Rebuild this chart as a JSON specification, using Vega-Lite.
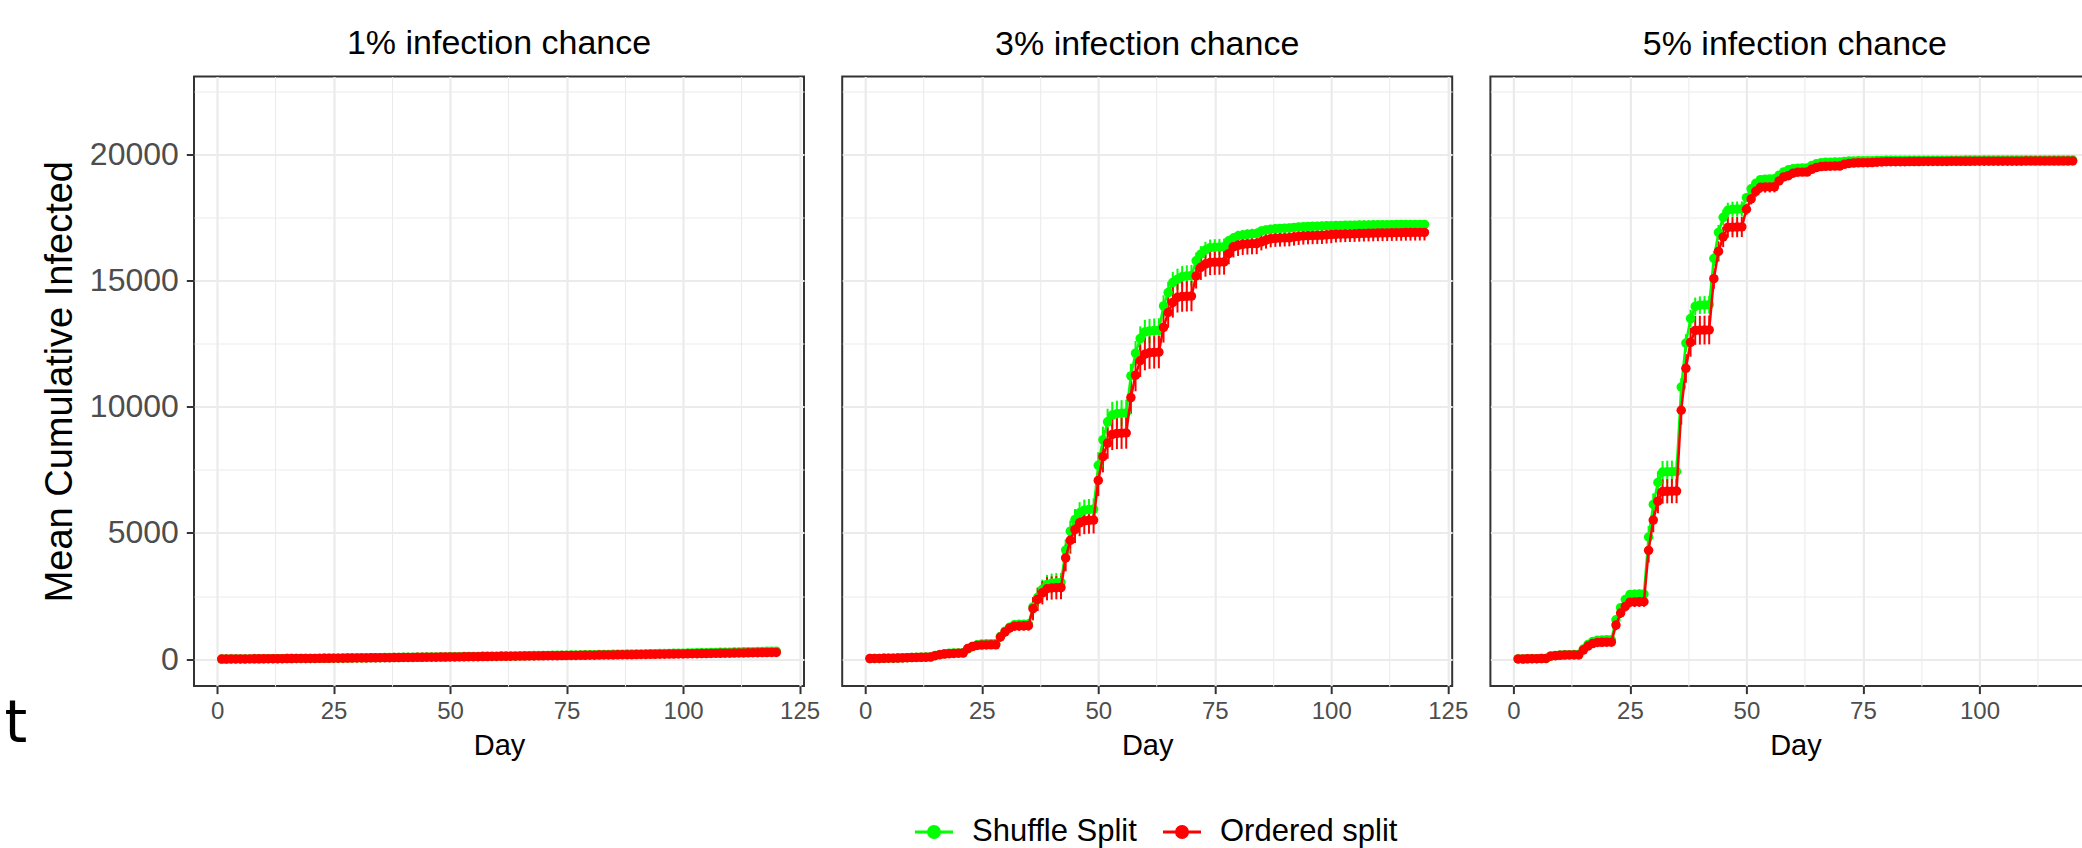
{
"$schema": "https://vega.github.io/schema/vega-lite/v6.json",
"padding": {"left": 4, "top": 25.5, "right": 0, "bottom": 0},
"title": {"text": "t", "orient": "bottom", "anchor": "start", "frame": "group", "font": "DejaVu Sans", "fontSize": 58, "fontWeight": "normal", "color": "#000000", "baseline": "alphabetic", "offset": -105, "dx": -189.5},
"config": {
  "font": "Liberation Sans",
  "view": {"stroke": "#333333", "strokeWidth": 2},
  "axis": {"gridColor": "#EBEBEB", "tickColor": "#333333", "tickWidth": 2, "tickSize": 7.7, "labelColor": "#4D4D4D", "titleColor": "#000000", "labelFont": "Liberation Sans", "titleFont": "Liberation Sans", "titleFontWeight": "normal", "domain": false},
  "title": {"fontSize": 34, "font": "Liberation Sans", "fontWeight": "normal", "color": "#000000", "anchor": "middle", "baseline": "alphabetic"},
  "legend": {"orient": "none", "direction": "horizontal", "legendX": 719.5, "legendY": 734.7, "labelFontSize": 31, "labelLimit": 0, "labelColor": "#000000", "labelFont": "Liberation Sans", "symbolType": "M-1,0L1,0M0.29,0A0.29,0.29,0,1,1,-0.29,0A0.29,0.29,0,1,1,0.29,0Z", "symbolSize": 1444, "symbolStrokeWidth": 3, "columnPadding": 19, "labelOffset": 17.5, "padding": 0}
},
"datasets": {
"p1": [
{"day":1,"shuffle":5,"ordered":5,"shuffleErr":5,"orderedErr":5},
{"day":2,"shuffle":6,"ordered":6,"shuffleErr":5,"orderedErr":5},
{"day":3,"shuffle":8,"ordered":8,"shuffleErr":5,"orderedErr":5},
{"day":4,"shuffle":9,"ordered":9,"shuffleErr":5,"orderedErr":5},
{"day":5,"shuffle":11,"ordered":10,"shuffleErr":5,"orderedErr":5},
{"day":6,"shuffle":12,"ordered":12,"shuffleErr":5,"orderedErr":5},
{"day":7,"shuffle":13,"ordered":13,"shuffleErr":5,"orderedErr":5},
{"day":8,"shuffle":15,"ordered":14,"shuffleErr":5,"orderedErr":5},
{"day":9,"shuffle":16,"ordered":16,"shuffleErr":5,"orderedErr":5},
{"day":10,"shuffle":18,"ordered":17,"shuffleErr":5,"orderedErr":5},
{"day":11,"shuffle":19,"ordered":18,"shuffleErr":5,"orderedErr":5},
{"day":12,"shuffle":20,"ordered":20,"shuffleErr":5,"orderedErr":5},
{"day":13,"shuffle":22,"ordered":21,"shuffleErr":5,"orderedErr":5},
{"day":14,"shuffle":23,"ordered":22,"shuffleErr":5,"orderedErr":5},
{"day":15,"shuffle":25,"ordered":24,"shuffleErr":5,"orderedErr":5},
{"day":16,"shuffle":26,"ordered":25,"shuffleErr":5,"orderedErr":5},
{"day":17,"shuffle":27,"ordered":27,"shuffleErr":5,"orderedErr":5},
{"day":18,"shuffle":29,"ordered":28,"shuffleErr":5,"orderedErr":5},
{"day":19,"shuffle":30,"ordered":29,"shuffleErr":5,"orderedErr":5},
{"day":20,"shuffle":32,"ordered":31,"shuffleErr":5,"orderedErr":5},
{"day":21,"shuffle":33,"ordered":32,"shuffleErr":5,"orderedErr":5},
{"day":22,"shuffle":35,"ordered":33,"shuffleErr":5,"orderedErr":5},
{"day":23,"shuffle":36,"ordered":35,"shuffleErr":5,"orderedErr":5},
{"day":24,"shuffle":38,"ordered":36,"shuffleErr":5,"orderedErr":5},
{"day":25,"shuffle":40,"ordered":38,"shuffleErr":5,"orderedErr":5},
{"day":26,"shuffle":42,"ordered":40,"shuffleErr":5,"orderedErr":5},
{"day":27,"shuffle":44,"ordered":42,"shuffleErr":5,"orderedErr":5},
{"day":28,"shuffle":46,"ordered":44,"shuffleErr":5,"orderedErr":5},
{"day":29,"shuffle":49,"ordered":46,"shuffleErr":5,"orderedErr":5},
{"day":30,"shuffle":51,"ordered":48,"shuffleErr":5,"orderedErr":5},
{"day":31,"shuffle":53,"ordered":50,"shuffleErr":5,"orderedErr":5},
{"day":32,"shuffle":55,"ordered":52,"shuffleErr":5,"orderedErr":5},
{"day":33,"shuffle":57,"ordered":54,"shuffleErr":5,"orderedErr":5},
{"day":34,"shuffle":59,"ordered":56,"shuffleErr":5,"orderedErr":5},
{"day":35,"shuffle":62,"ordered":58,"shuffleErr":5,"orderedErr":5},
{"day":36,"shuffle":64,"ordered":60,"shuffleErr":5,"orderedErr":5},
{"day":37,"shuffle":66,"ordered":62,"shuffleErr":5,"orderedErr":5},
{"day":38,"shuffle":68,"ordered":64,"shuffleErr":5,"orderedErr":5},
{"day":39,"shuffle":70,"ordered":66,"shuffleErr":5,"orderedErr":5},
{"day":40,"shuffle":73,"ordered":68,"shuffleErr":5,"orderedErr":5},
{"day":41,"shuffle":75,"ordered":70,"shuffleErr":5,"orderedErr":5},
{"day":42,"shuffle":77,"ordered":72,"shuffleErr":5,"orderedErr":5},
{"day":43,"shuffle":79,"ordered":74,"shuffleErr":5,"orderedErr":5},
{"day":44,"shuffle":81,"ordered":76,"shuffleErr":5,"orderedErr":5},
{"day":45,"shuffle":84,"ordered":78,"shuffleErr":5,"orderedErr":5},
{"day":46,"shuffle":86,"ordered":80,"shuffleErr":5,"orderedErr":5},
{"day":47,"shuffle":88,"ordered":82,"shuffleErr":5,"orderedErr":5},
{"day":48,"shuffle":90,"ordered":84,"shuffleErr":5,"orderedErr":5},
{"day":49,"shuffle":92,"ordered":86,"shuffleErr":5,"orderedErr":5},
{"day":50,"shuffle":95,"ordered":88,"shuffleErr":5,"orderedErr":5},
{"day":51,"shuffle":98,"ordered":90,"shuffleErr":5,"orderedErr":5},
{"day":52,"shuffle":100,"ordered":92,"shuffleErr":5,"orderedErr":5},
{"day":53,"shuffle":103,"ordered":95,"shuffleErr":5,"orderedErr":5},
{"day":54,"shuffle":105,"ordered":97,"shuffleErr":5,"orderedErr":5},
{"day":55,"shuffle":108,"ordered":99,"shuffleErr":5,"orderedErr":5},
{"day":56,"shuffle":110,"ordered":101,"shuffleErr":5,"orderedErr":5},
{"day":57,"shuffle":113,"ordered":104,"shuffleErr":5,"orderedErr":5},
{"day":58,"shuffle":116,"ordered":106,"shuffleErr":5,"orderedErr":5},
{"day":59,"shuffle":118,"ordered":108,"shuffleErr":5,"orderedErr":5},
{"day":60,"shuffle":121,"ordered":111,"shuffleErr":5,"orderedErr":5},
{"day":61,"shuffle":123,"ordered":113,"shuffleErr":5,"orderedErr":5},
{"day":62,"shuffle":126,"ordered":115,"shuffleErr":5,"orderedErr":5},
{"day":63,"shuffle":129,"ordered":118,"shuffleErr":5,"orderedErr":5},
{"day":64,"shuffle":131,"ordered":120,"shuffleErr":5,"orderedErr":5},
{"day":65,"shuffle":134,"ordered":122,"shuffleErr":5,"orderedErr":5},
{"day":66,"shuffle":136,"ordered":125,"shuffleErr":5,"orderedErr":5},
{"day":67,"shuffle":139,"ordered":127,"shuffleErr":5,"orderedErr":5},
{"day":68,"shuffle":142,"ordered":129,"shuffleErr":5,"orderedErr":5},
{"day":69,"shuffle":144,"ordered":132,"shuffleErr":5,"orderedErr":5},
{"day":70,"shuffle":147,"ordered":134,"shuffleErr":5,"orderedErr":5},
{"day":71,"shuffle":149,"ordered":136,"shuffleErr":5,"orderedErr":5},
{"day":72,"shuffle":152,"ordered":139,"shuffleErr":5,"orderedErr":5},
{"day":73,"shuffle":155,"ordered":141,"shuffleErr":5,"orderedErr":5},
{"day":74,"shuffle":157,"ordered":143,"shuffleErr":5,"orderedErr":5},
{"day":75,"shuffle":160,"ordered":145,"shuffleErr":5,"orderedErr":5},
{"day":76,"shuffle":163,"ordered":148,"shuffleErr":5,"orderedErr":5},
{"day":77,"shuffle":166,"ordered":150,"shuffleErr":5,"orderedErr":5},
{"day":78,"shuffle":170,"ordered":153,"shuffleErr":5,"orderedErr":5},
{"day":79,"shuffle":173,"ordered":155,"shuffleErr":5,"orderedErr":5},
{"day":80,"shuffle":176,"ordered":158,"shuffleErr":5,"orderedErr":5},
{"day":81,"shuffle":179,"ordered":160,"shuffleErr":5,"orderedErr":5},
{"day":82,"shuffle":182,"ordered":163,"shuffleErr":5,"orderedErr":5},
{"day":83,"shuffle":186,"ordered":166,"shuffleErr":5,"orderedErr":5},
{"day":84,"shuffle":189,"ordered":168,"shuffleErr":5,"orderedErr":5},
{"day":85,"shuffle":192,"ordered":171,"shuffleErr":5,"orderedErr":5},
{"day":86,"shuffle":195,"ordered":173,"shuffleErr":5,"orderedErr":5},
{"day":87,"shuffle":198,"ordered":176,"shuffleErr":5,"orderedErr":5},
{"day":88,"shuffle":202,"ordered":179,"shuffleErr":5,"orderedErr":5},
{"day":89,"shuffle":205,"ordered":181,"shuffleErr":5,"orderedErr":5},
{"day":90,"shuffle":208,"ordered":184,"shuffleErr":5,"orderedErr":5},
{"day":91,"shuffle":211,"ordered":187,"shuffleErr":5,"orderedErr":5},
{"day":92,"shuffle":214,"ordered":189,"shuffleErr":5,"orderedErr":5},
{"day":93,"shuffle":218,"ordered":192,"shuffleErr":5,"orderedErr":5},
{"day":94,"shuffle":221,"ordered":195,"shuffleErr":5,"orderedErr":5},
{"day":95,"shuffle":224,"ordered":197,"shuffleErr":5,"orderedErr":5},
{"day":96,"shuffle":227,"ordered":200,"shuffleErr":5,"orderedErr":5},
{"day":97,"shuffle":230,"ordered":203,"shuffleErr":5,"orderedErr":5},
{"day":98,"shuffle":234,"ordered":205,"shuffleErr":5,"orderedErr":5},
{"day":99,"shuffle":237,"ordered":208,"shuffleErr":5,"orderedErr":5},
{"day":100,"shuffle":240,"ordered":210,"shuffleErr":5,"orderedErr":5},
{"day":101,"shuffle":244,"ordered":213,"shuffleErr":5,"orderedErr":5},
{"day":102,"shuffle":248,"ordered":216,"shuffleErr":5,"orderedErr":5},
{"day":103,"shuffle":252,"ordered":219,"shuffleErr":5,"orderedErr":5},
{"day":104,"shuffle":256,"ordered":222,"shuffleErr":5,"orderedErr":5},
{"day":105,"shuffle":260,"ordered":225,"shuffleErr":5,"orderedErr":5},
{"day":106,"shuffle":264,"ordered":228,"shuffleErr":5,"orderedErr":5},
{"day":107,"shuffle":268,"ordered":231,"shuffleErr":5,"orderedErr":5},
{"day":108,"shuffle":272,"ordered":234,"shuffleErr":5,"orderedErr":5},
{"day":109,"shuffle":276,"ordered":237,"shuffleErr":5,"orderedErr":5},
{"day":110,"shuffle":280,"ordered":240,"shuffleErr":5,"orderedErr":5},
{"day":111,"shuffle":284,"ordered":243,"shuffleErr":5,"orderedErr":5},
{"day":112,"shuffle":288,"ordered":246,"shuffleErr":5,"orderedErr":5},
{"day":113,"shuffle":292,"ordered":249,"shuffleErr":5,"orderedErr":5},
{"day":114,"shuffle":296,"ordered":252,"shuffleErr":5,"orderedErr":5},
{"day":115,"shuffle":300,"ordered":255,"shuffleErr":5,"orderedErr":5},
{"day":116,"shuffle":304,"ordered":258,"shuffleErr":5,"orderedErr":5},
{"day":117,"shuffle":308,"ordered":261,"shuffleErr":5,"orderedErr":5},
{"day":118,"shuffle":312,"ordered":264,"shuffleErr":5,"orderedErr":5},
{"day":119,"shuffle":316,"ordered":267,"shuffleErr":5,"orderedErr":5},
{"day":120,"shuffle":320,"ordered":270,"shuffleErr":5,"orderedErr":5}
],
"p2": [
{"day":1,"shuffle":25,"ordered":25,"shuffleErr":20,"orderedErr":20},
{"day":2,"shuffle":28,"ordered":28,"shuffleErr":20,"orderedErr":20},
{"day":3,"shuffle":31,"ordered":31,"shuffleErr":20,"orderedErr":20},
{"day":4,"shuffle":35,"ordered":34,"shuffleErr":20,"orderedErr":20},
{"day":5,"shuffle":38,"ordered":37,"shuffleErr":20,"orderedErr":20},
{"day":6,"shuffle":42,"ordered":41,"shuffleErr":20,"orderedErr":20},
{"day":7,"shuffle":46,"ordered":45,"shuffleErr":20,"orderedErr":20},
{"day":8,"shuffle":55,"ordered":52,"shuffleErr":20,"orderedErr":20},
{"day":9,"shuffle":62,"ordered":58,"shuffleErr":20,"orderedErr":20},
{"day":10,"shuffle":68,"ordered":64,"shuffleErr":20,"orderedErr":20},
{"day":11,"shuffle":74,"ordered":70,"shuffleErr":20,"orderedErr":20},
{"day":12,"shuffle":80,"ordered":75,"shuffleErr":20,"orderedErr":20},
{"day":13,"shuffle":86,"ordered":80,"shuffleErr":20,"orderedErr":20},
{"day":14,"shuffle":92,"ordered":86,"shuffleErr":20,"orderedErr":20},
{"day":15,"shuffle":150,"ordered":140,"shuffleErr":60,"orderedErr":60},
{"day":16,"shuffle":190,"ordered":180,"shuffleErr":60,"orderedErr":60},
{"day":17,"shuffle":215,"ordered":205,"shuffleErr":60,"orderedErr":60},
{"day":18,"shuffle":232,"ordered":220,"shuffleErr":60,"orderedErr":60},
{"day":19,"shuffle":242,"ordered":230,"shuffleErr":60,"orderedErr":60},
{"day":20,"shuffle":250,"ordered":238,"shuffleErr":60,"orderedErr":60},
{"day":21,"shuffle":256,"ordered":244,"shuffleErr":60,"orderedErr":60},
{"day":22,"shuffle":410,"ordered":420,"shuffleErr":150,"orderedErr":160},
{"day":23,"shuffle":505,"ordered":500,"shuffleErr":150,"orderedErr":160},
{"day":24,"shuffle":570,"ordered":545,"shuffleErr":150,"orderedErr":160},
{"day":25,"shuffle":600,"ordered":560,"shuffleErr":150,"orderedErr":160},
{"day":26,"shuffle":610,"ordered":565,"shuffleErr":150,"orderedErr":160},
{"day":27,"shuffle":616,"ordered":568,"shuffleErr":150,"orderedErr":160},
{"day":28,"shuffle":622,"ordered":570,"shuffleErr":150,"orderedErr":160},
{"day":29,"shuffle":900,"ordered":880,"shuffleErr":170,"orderedErr":190},
{"day":30,"shuffle":1110,"ordered":1080,"shuffleErr":170,"orderedErr":190},
{"day":31,"shuffle":1270,"ordered":1240,"shuffleErr":170,"orderedErr":190},
{"day":32,"shuffle":1360,"ordered":1310,"shuffleErr":170,"orderedErr":190},
{"day":33,"shuffle":1380,"ordered":1318,"shuffleErr":170,"orderedErr":190},
{"day":34,"shuffle":1386,"ordered":1322,"shuffleErr":170,"orderedErr":190},
{"day":35,"shuffle":1392,"ordered":1326,"shuffleErr":170,"orderedErr":190},
{"day":36,"shuffle":2070,"ordered":2000,"shuffleErr":380,"orderedErr":460},
{"day":37,"shuffle":2450,"ordered":2370,"shuffleErr":380,"orderedErr":460},
{"day":38,"shuffle":2770,"ordered":2630,"shuffleErr":380,"orderedErr":460},
{"day":39,"shuffle":2960,"ordered":2790,"shuffleErr":380,"orderedErr":460},
{"day":40,"shuffle":3010,"ordered":2820,"shuffleErr":380,"orderedErr":460},
{"day":41,"shuffle":3030,"ordered":2830,"shuffleErr":380,"orderedErr":460},
{"day":42,"shuffle":3040,"ordered":2836,"shuffleErr":380,"orderedErr":460},
{"day":43,"shuffle":4320,"ordered":4010,"shuffleErr":420,"orderedErr":530},
{"day":44,"shuffle":5070,"ordered":4710,"shuffleErr":420,"orderedErr":530},
{"day":45,"shuffle":5530,"ordered":5130,"shuffleErr":420,"orderedErr":530},
{"day":46,"shuffle":5800,"ordered":5400,"shuffleErr":420,"orderedErr":530},
{"day":47,"shuffle":5900,"ordered":5480,"shuffleErr":420,"orderedErr":530},
{"day":48,"shuffle":5925,"ordered":5500,"shuffleErr":420,"orderedErr":530},
{"day":49,"shuffle":5945,"ordered":5510,"shuffleErr":420,"orderedErr":530},
{"day":50,"shuffle":7680,"ordered":7080,"shuffleErr":520,"orderedErr":620},
{"day":51,"shuffle":8690,"ordered":8020,"shuffleErr":520,"orderedErr":620},
{"day":52,"shuffle":9400,"ordered":8560,"shuffleErr":520,"orderedErr":620},
{"day":53,"shuffle":9670,"ordered":8900,"shuffleErr":520,"orderedErr":620},
{"day":54,"shuffle":9720,"ordered":8940,"shuffleErr":520,"orderedErr":620},
{"day":55,"shuffle":9740,"ordered":8950,"shuffleErr":520,"orderedErr":620},
{"day":56,"shuffle":9755,"ordered":8958,"shuffleErr":520,"orderedErr":620},
{"day":57,"shuffle":11220,"ordered":10360,"shuffleErr":480,"orderedErr":640},
{"day":58,"shuffle":12120,"ordered":11250,"shuffleErr":480,"orderedErr":640},
{"day":59,"shuffle":12700,"ordered":11820,"shuffleErr":480,"orderedErr":640},
{"day":60,"shuffle":12960,"ordered":12080,"shuffleErr":480,"orderedErr":640},
{"day":61,"shuffle":13000,"ordered":12140,"shuffleErr":480,"orderedErr":640},
{"day":62,"shuffle":13015,"ordered":12150,"shuffleErr":480,"orderedErr":640},
{"day":63,"shuffle":13025,"ordered":12160,"shuffleErr":480,"orderedErr":640},
{"day":64,"shuffle":13990,"ordered":13140,"shuffleErr":420,"orderedErr":600},
{"day":65,"shuffle":14520,"ordered":13730,"shuffleErr":420,"orderedErr":600},
{"day":66,"shuffle":14920,"ordered":14130,"shuffleErr":420,"orderedErr":600},
{"day":67,"shuffle":15050,"ordered":14330,"shuffleErr":420,"orderedErr":600},
{"day":68,"shuffle":15150,"ordered":14360,"shuffleErr":420,"orderedErr":600},
{"day":69,"shuffle":15180,"ordered":14370,"shuffleErr":420,"orderedErr":600},
{"day":70,"shuffle":15195,"ordered":14380,"shuffleErr":420,"orderedErr":600},
{"day":71,"shuffle":15780,"ordered":15180,"shuffleErr":320,"orderedErr":500},
{"day":72,"shuffle":16040,"ordered":15520,"shuffleErr":320,"orderedErr":500},
{"day":73,"shuffle":16210,"ordered":15650,"shuffleErr":320,"orderedErr":500},
{"day":74,"shuffle":16300,"ordered":15710,"shuffleErr":320,"orderedErr":500},
{"day":75,"shuffle":16315,"ordered":15720,"shuffleErr":320,"orderedErr":500},
{"day":76,"shuffle":16325,"ordered":15725,"shuffleErr":320,"orderedErr":500},
{"day":77,"shuffle":16335,"ordered":15730,"shuffleErr":320,"orderedErr":500},
{"day":78,"shuffle":16570,"ordered":16060,"shuffleErr":200,"orderedErr":420},
{"day":79,"shuffle":16680,"ordered":16330,"shuffleErr":200,"orderedErr":420},
{"day":80,"shuffle":16770,"ordered":16390,"shuffleErr":200,"orderedErr":420},
{"day":81,"shuffle":16800,"ordered":16430,"shuffleErr":200,"orderedErr":420},
{"day":82,"shuffle":16825,"ordered":16445,"shuffleErr":200,"orderedErr":420},
{"day":83,"shuffle":16845,"ordered":16455,"shuffleErr":200,"orderedErr":420},
{"day":84,"shuffle":16860,"ordered":16460,"shuffleErr":200,"orderedErr":420},
{"day":85,"shuffle":16960,"ordered":16530,"shuffleErr":170,"orderedErr":340},
{"day":86,"shuffle":17000,"ordered":16600,"shuffleErr":170,"orderedErr":340},
{"day":87,"shuffle":17030,"ordered":16650,"shuffleErr":170,"orderedErr":340},
{"day":88,"shuffle":17050,"ordered":16670,"shuffleErr":170,"orderedErr":340},
{"day":89,"shuffle":17060,"ordered":16680,"shuffleErr":170,"orderedErr":340},
{"day":90,"shuffle":17070,"ordered":16685,"shuffleErr":170,"orderedErr":340},
{"day":91,"shuffle":17080,"ordered":16690,"shuffleErr":170,"orderedErr":340},
{"day":92,"shuffle":17100,"ordered":16720,"shuffleErr":170,"orderedErr":340},
{"day":93,"shuffle":17115,"ordered":16745,"shuffleErr":170,"orderedErr":340},
{"day":94,"shuffle":17125,"ordered":16760,"shuffleErr":170,"orderedErr":340},
{"day":95,"shuffle":17135,"ordered":16770,"shuffleErr":170,"orderedErr":340},
{"day":96,"shuffle":17145,"ordered":16775,"shuffleErr":170,"orderedErr":340},
{"day":97,"shuffle":17150,"ordered":16780,"shuffleErr":170,"orderedErr":340},
{"day":98,"shuffle":17155,"ordered":16785,"shuffleErr":170,"orderedErr":340},
{"day":99,"shuffle":17165,"ordered":16800,"shuffleErr":170,"orderedErr":340},
{"day":100,"shuffle":17170,"ordered":16815,"shuffleErr":170,"orderedErr":340},
{"day":101,"shuffle":17175,"ordered":16825,"shuffleErr":170,"orderedErr":320},
{"day":102,"shuffle":17180,"ordered":16832,"shuffleErr":170,"orderedErr":320},
{"day":103,"shuffle":17183,"ordered":16838,"shuffleErr":170,"orderedErr":320},
{"day":104,"shuffle":17186,"ordered":16842,"shuffleErr":170,"orderedErr":320},
{"day":105,"shuffle":17190,"ordered":16846,"shuffleErr":170,"orderedErr":320},
{"day":106,"shuffle":17193,"ordered":16855,"shuffleErr":170,"orderedErr":320},
{"day":107,"shuffle":17196,"ordered":16862,"shuffleErr":170,"orderedErr":320},
{"day":108,"shuffle":17200,"ordered":16867,"shuffleErr":170,"orderedErr":320},
{"day":109,"shuffle":17202,"ordered":16871,"shuffleErr":170,"orderedErr":320},
{"day":110,"shuffle":17204,"ordered":16875,"shuffleErr":170,"orderedErr":320},
{"day":111,"shuffle":17206,"ordered":16879,"shuffleErr":170,"orderedErr":320},
{"day":112,"shuffle":17208,"ordered":16883,"shuffleErr":170,"orderedErr":320},
{"day":113,"shuffle":17210,"ordered":16886,"shuffleErr":170,"orderedErr":320},
{"day":114,"shuffle":17212,"ordered":16889,"shuffleErr":170,"orderedErr":320},
{"day":115,"shuffle":17213,"ordered":16892,"shuffleErr":170,"orderedErr":320},
{"day":116,"shuffle":17214,"ordered":16895,"shuffleErr":170,"orderedErr":320},
{"day":117,"shuffle":17215,"ordered":16897,"shuffleErr":170,"orderedErr":320},
{"day":118,"shuffle":17216,"ordered":16899,"shuffleErr":170,"orderedErr":320},
{"day":119,"shuffle":17217,"ordered":16901,"shuffleErr":170,"orderedErr":320},
{"day":120,"shuffle":17218,"ordered":16903,"shuffleErr":170,"orderedErr":320}
],
"p3": [
{"day":1,"shuffle":10,"ordered":10,"shuffleErr":10,"orderedErr":10},
{"day":2,"shuffle":12,"ordered":12,"shuffleErr":10,"orderedErr":10},
{"day":3,"shuffle":15,"ordered":15,"shuffleErr":10,"orderedErr":10},
{"day":4,"shuffle":18,"ordered":18,"shuffleErr":10,"orderedErr":10},
{"day":5,"shuffle":20,"ordered":20,"shuffleErr":10,"orderedErr":10},
{"day":6,"shuffle":24,"ordered":24,"shuffleErr":10,"orderedErr":10},
{"day":7,"shuffle":28,"ordered":28,"shuffleErr":10,"orderedErr":10},
{"day":8,"shuffle":130,"ordered":120,"shuffleErr":30,"orderedErr":30},
{"day":9,"shuffle":150,"ordered":140,"shuffleErr":30,"orderedErr":30},
{"day":10,"shuffle":165,"ordered":155,"shuffleErr":30,"orderedErr":30},
{"day":11,"shuffle":175,"ordered":164,"shuffleErr":30,"orderedErr":30},
{"day":12,"shuffle":180,"ordered":167,"shuffleErr":30,"orderedErr":30},
{"day":13,"shuffle":183,"ordered":169,"shuffleErr":30,"orderedErr":30},
{"day":14,"shuffle":186,"ordered":171,"shuffleErr":30,"orderedErr":30},
{"day":15,"shuffle":400,"ordered":360,"shuffleErr":80,"orderedErr":90},
{"day":16,"shuffle":585,"ordered":520,"shuffleErr":80,"orderedErr":90},
{"day":17,"shuffle":700,"ordered":620,"shuffleErr":80,"orderedErr":90},
{"day":18,"shuffle":750,"ordered":665,"shuffleErr":80,"orderedErr":90},
{"day":19,"shuffle":760,"ordered":670,"shuffleErr":80,"orderedErr":90},
{"day":20,"shuffle":766,"ordered":673,"shuffleErr":80,"orderedErr":90},
{"day":21,"shuffle":770,"ordered":675,"shuffleErr":80,"orderedErr":90},
{"day":22,"shuffle":1560,"ordered":1350,"shuffleErr":180,"orderedErr":200},
{"day":23,"shuffle":2040,"ordered":1830,"shuffleErr":180,"orderedErr":200},
{"day":24,"shuffle":2360,"ordered":2090,"shuffleErr":180,"orderedErr":200},
{"day":25,"shuffle":2560,"ordered":2260,"shuffleErr":180,"orderedErr":200},
{"day":26,"shuffle":2572,"ordered":2268,"shuffleErr":180,"orderedErr":200},
{"day":27,"shuffle":2578,"ordered":2272,"shuffleErr":180,"orderedErr":200},
{"day":28,"shuffle":2582,"ordered":2275,"shuffleErr":180,"orderedErr":200},
{"day":29,"shuffle":4840,"ordered":4310,"shuffleErr":440,"orderedErr":480},
{"day":30,"shuffle":6130,"ordered":5510,"shuffleErr":440,"orderedErr":480},
{"day":31,"shuffle":7000,"ordered":6260,"shuffleErr":440,"orderedErr":480},
{"day":32,"shuffle":7410,"ordered":6640,"shuffleErr":440,"orderedErr":480},
{"day":33,"shuffle":7420,"ordered":6650,"shuffleErr":440,"orderedErr":480},
{"day":34,"shuffle":7426,"ordered":6655,"shuffleErr":440,"orderedErr":480},
{"day":35,"shuffle":7432,"ordered":6660,"shuffleErr":440,"orderedErr":480},
{"day":36,"shuffle":10780,"ordered":9860,"shuffleErr":350,"orderedErr":570},
{"day":37,"shuffle":12520,"ordered":11520,"shuffleErr":350,"orderedErr":570},
{"day":38,"shuffle":13490,"ordered":12550,"shuffleErr":350,"orderedErr":570},
{"day":39,"shuffle":13970,"ordered":13020,"shuffleErr":350,"orderedErr":570},
{"day":40,"shuffle":14020,"ordered":13030,"shuffleErr":350,"orderedErr":570},
{"day":41,"shuffle":14032,"ordered":13035,"shuffleErr":350,"orderedErr":570},
{"day":42,"shuffle":14040,"ordered":13040,"shuffleErr":350,"orderedErr":570},
{"day":43,"shuffle":15870,"ordered":15070,"shuffleErr":300,"orderedErr":400},
{"day":44,"shuffle":16900,"ordered":16150,"shuffleErr":300,"orderedErr":400},
{"day":45,"shuffle":17500,"ordered":16720,"shuffleErr":300,"orderedErr":400},
{"day":46,"shuffle":17780,"ordered":17100,"shuffleErr":300,"orderedErr":400},
{"day":47,"shuffle":17820,"ordered":17110,"shuffleErr":300,"orderedErr":400},
{"day":48,"shuffle":17826,"ordered":17114,"shuffleErr":300,"orderedErr":400},
{"day":49,"shuffle":17832,"ordered":17118,"shuffleErr":300,"orderedErr":400},
{"day":50,"shuffle":18280,"ordered":17820,"shuffleErr":150,"orderedErr":220},
{"day":51,"shuffle":18630,"ordered":18230,"shuffleErr":150,"orderedErr":220},
{"day":52,"shuffle":18850,"ordered":18530,"shuffleErr":150,"orderedErr":220},
{"day":53,"shuffle":18990,"ordered":18690,"shuffleErr":150,"orderedErr":220},
{"day":54,"shuffle":19010,"ordered":18700,"shuffleErr":150,"orderedErr":220},
{"day":55,"shuffle":19020,"ordered":18705,"shuffleErr":150,"orderedErr":220},
{"day":56,"shuffle":19025,"ordered":18708,"shuffleErr":150,"orderedErr":220},
{"day":57,"shuffle":19170,"ordered":18940,"shuffleErr":80,"orderedErr":120},
{"day":58,"shuffle":19300,"ordered":19100,"shuffleErr":80,"orderedErr":120},
{"day":59,"shuffle":19380,"ordered":19150,"shuffleErr":80,"orderedErr":120},
{"day":60,"shuffle":19420,"ordered":19250,"shuffleErr":80,"orderedErr":120},
{"day":61,"shuffle":19440,"ordered":19285,"shuffleErr":80,"orderedErr":120},
{"day":62,"shuffle":19450,"ordered":19290,"shuffleErr":80,"orderedErr":120},
{"day":63,"shuffle":19455,"ordered":19294,"shuffleErr":80,"orderedErr":120},
{"day":64,"shuffle":19550,"ordered":19400,"shuffleErr":50,"orderedErr":60},
{"day":65,"shuffle":19620,"ordered":19470,"shuffleErr":50,"orderedErr":60},
{"day":66,"shuffle":19660,"ordered":19510,"shuffleErr":50,"orderedErr":60},
{"day":67,"shuffle":19680,"ordered":19520,"shuffleErr":50,"orderedErr":60},
{"day":68,"shuffle":19686,"ordered":19525,"shuffleErr":50,"orderedErr":60},
{"day":69,"shuffle":19690,"ordered":19528,"shuffleErr":50,"orderedErr":60},
{"day":70,"shuffle":19693,"ordered":19530,"shuffleErr":50,"orderedErr":60},
{"day":71,"shuffle":19715,"ordered":19600,"shuffleErr":50,"orderedErr":60},
{"day":72,"shuffle":19728,"ordered":19635,"shuffleErr":50,"orderedErr":60},
{"day":73,"shuffle":19735,"ordered":19650,"shuffleErr":50,"orderedErr":60},
{"day":74,"shuffle":19738,"ordered":19658,"shuffleErr":50,"orderedErr":60},
{"day":75,"shuffle":19740,"ordered":19662,"shuffleErr":50,"orderedErr":60},
{"day":76,"shuffle":19742,"ordered":19665,"shuffleErr":50,"orderedErr":60},
{"day":77,"shuffle":19743,"ordered":19667,"shuffleErr":50,"orderedErr":60},
{"day":78,"shuffle":19750,"ordered":19685,"shuffleErr":50,"orderedErr":60},
{"day":79,"shuffle":19754,"ordered":19695,"shuffleErr":50,"orderedErr":60},
{"day":80,"shuffle":19756,"ordered":19700,"shuffleErr":50,"orderedErr":60},
{"day":81,"shuffle":19757,"ordered":19702,"shuffleErr":50,"orderedErr":60},
{"day":82,"shuffle":19758,"ordered":19703,"shuffleErr":50,"orderedErr":60},
{"day":83,"shuffle":19759,"ordered":19704,"shuffleErr":50,"orderedErr":60},
{"day":84,"shuffle":19760,"ordered":19705,"shuffleErr":50,"orderedErr":60},
{"day":85,"shuffle":19761,"ordered":19707,"shuffleErr":50,"orderedErr":60},
{"day":86,"shuffle":19761,"ordered":19708,"shuffleErr":50,"orderedErr":60},
{"day":87,"shuffle":19762,"ordered":19709,"shuffleErr":50,"orderedErr":60},
{"day":88,"shuffle":19762,"ordered":19710,"shuffleErr":50,"orderedErr":60},
{"day":89,"shuffle":19763,"ordered":19711,"shuffleErr":50,"orderedErr":60},
{"day":90,"shuffle":19763,"ordered":19712,"shuffleErr":50,"orderedErr":60},
{"day":91,"shuffle":19764,"ordered":19713,"shuffleErr":50,"orderedErr":60},
{"day":92,"shuffle":19764,"ordered":19714,"shuffleErr":50,"orderedErr":60},
{"day":93,"shuffle":19764,"ordered":19715,"shuffleErr":50,"orderedErr":60},
{"day":94,"shuffle":19765,"ordered":19716,"shuffleErr":50,"orderedErr":60},
{"day":95,"shuffle":19765,"ordered":19717,"shuffleErr":50,"orderedErr":60},
{"day":96,"shuffle":19765,"ordered":19717,"shuffleErr":50,"orderedErr":60},
{"day":97,"shuffle":19766,"ordered":19718,"shuffleErr":50,"orderedErr":60},
{"day":98,"shuffle":19766,"ordered":19719,"shuffleErr":50,"orderedErr":60},
{"day":99,"shuffle":19766,"ordered":19720,"shuffleErr":50,"orderedErr":60},
{"day":100,"shuffle":19766,"ordered":19720,"shuffleErr":50,"orderedErr":60},
{"day":101,"shuffle":19767,"ordered":19721,"shuffleErr":50,"orderedErr":60},
{"day":102,"shuffle":19767,"ordered":19722,"shuffleErr":50,"orderedErr":60},
{"day":103,"shuffle":19767,"ordered":19722,"shuffleErr":50,"orderedErr":60},
{"day":104,"shuffle":19768,"ordered":19723,"shuffleErr":50,"orderedErr":60},
{"day":105,"shuffle":19768,"ordered":19723,"shuffleErr":50,"orderedErr":60},
{"day":106,"shuffle":19768,"ordered":19724,"shuffleErr":50,"orderedErr":60},
{"day":107,"shuffle":19768,"ordered":19724,"shuffleErr":50,"orderedErr":60},
{"day":108,"shuffle":19769,"ordered":19725,"shuffleErr":50,"orderedErr":60},
{"day":109,"shuffle":19769,"ordered":19725,"shuffleErr":50,"orderedErr":60},
{"day":110,"shuffle":19769,"ordered":19726,"shuffleErr":50,"orderedErr":60},
{"day":111,"shuffle":19769,"ordered":19726,"shuffleErr":50,"orderedErr":60},
{"day":112,"shuffle":19769,"ordered":19727,"shuffleErr":50,"orderedErr":60},
{"day":113,"shuffle":19770,"ordered":19727,"shuffleErr":50,"orderedErr":60},
{"day":114,"shuffle":19770,"ordered":19728,"shuffleErr":50,"orderedErr":60},
{"day":115,"shuffle":19770,"ordered":19728,"shuffleErr":50,"orderedErr":60},
{"day":116,"shuffle":19770,"ordered":19728,"shuffleErr":50,"orderedErr":60},
{"day":117,"shuffle":19770,"ordered":19729,"shuffleErr":50,"orderedErr":60},
{"day":118,"shuffle":19770,"ordered":19729,"shuffleErr":50,"orderedErr":60},
{"day":119,"shuffle":19770,"ordered":19729,"shuffleErr":50,"orderedErr":60},
{"day":120,"shuffle":19770,"ordered":19730,"shuffleErr":50,"orderedErr":60}
]
},
"spacing": 38.2,
"bounds": "flush",
"resolve": {"scale": {"x": "independent", "y": "independent", "color": "shared"}},
"hconcat": [
{
"width": 610, "height": 609.4,
"title": {"text": "1% infection chance", "offset": 14.1},
"data": {"name": "p1"},
"encoding": {"x": {"field": "day", "type": "quantitative", "title": "Day", "scale": {"domain": [-4.95, 125.95], "nice": false, "zero": false},
  "axis": {"values": [0,12.5,25,37.5,50,62.5,75,87.5,100,112.5,125], "format": "d", "labelExpr": "datum.value % 25 === 0 ? datum.label : ''", "labelFontSize": 24, "labelPadding": 5.5, "titleFontSize": 29, "titlePadding": 8.4, "labelFlush": false, "labelOverlap": false, "tickOpacity": {"condition": {"test": "datum.value % 25 !== 0", "value": 0}, "value": 1}, "gridWidth": {"condition": {"test": "datum.value % 25 === 0", "value": 2.2}, "value": 1.1}}}},
"layer": [
{"mark": {"type": "errorbar", "thickness": 2}, "encoding": {"y": {"field": "shuffle", "type": "quantitative", "title": "Mean Cumulative Infected", "scale": {"domain": [-1057, 23077], "nice": false, "zero": false},
  "axis": {"values": [0,2500,5000,7500,10000,12500,15000,17500,20000,22500], "format": "d", "labelExpr": "datum.value % 5000 === 0 ? datum.label : ''", "labelFontSize": 32, "labelPadding": 8, "titleFontSize": 38, "titlePadding": 9.7, "labelFlush": false, "labelOverlap": false, "tickOpacity": {"condition": {"test": "datum.value % 5000 !== 0", "value": 0}, "value": 1}, "gridWidth": {"condition": {"test": "datum.value % 5000 === 0", "value": 2.2}, "value": 1.1}}},
  "yError": {"field": "shuffleErr"},
  "color": {"datum": "Shuffle Split", "type": "nominal", "title": null, "scale": {"domain": ["Shuffle Split", "Ordered split"], "range": ["#00FF00", "#FF0000"]},
    "legend": {"encode": {"symbols": {"update": {"fill": {"scale": "color", "field": "value"}, "stroke": {"scale": "color", "field": "value"}, "strokeWidth": {"value": 3}, "opacity": {"value": 1}}}}}}}},
{"mark": {"type": "errorbar", "thickness": 2}, "encoding": {"y": {"field": "ordered", "type": "quantitative", "title": "Mean Cumulative Infected", "scale": {"domain": [-1057, 23077], "nice": false, "zero": false}}, "yError": {"field": "orderedErr"}, "color": {"datum": "Ordered split", "type": "nominal", "title": null}}},
{"mark": {"type": "line", "strokeWidth": 2.5}, "encoding": {"y": {"field": "shuffle", "type": "quantitative", "title": "Mean Cumulative Infected", "scale": {"domain": [-1057, 23077], "nice": false, "zero": false}}, "color": {"datum": "Shuffle Split", "type": "nominal", "title": null}}},
{"mark": {"type": "circle", "size": 90, "opacity": 1}, "encoding": {"y": {"field": "shuffle", "type": "quantitative", "title": "Mean Cumulative Infected", "scale": {"domain": [-1057, 23077], "nice": false, "zero": false}}, "color": {"datum": "Shuffle Split", "type": "nominal", "title": null}}},
{"mark": {"type": "line", "strokeWidth": 2.5}, "encoding": {"y": {"field": "ordered", "type": "quantitative", "title": "Mean Cumulative Infected", "scale": {"domain": [-1057, 23077], "nice": false, "zero": false}}, "color": {"datum": "Ordered split", "type": "nominal", "title": null}}},
{"mark": {"type": "circle", "size": 90, "opacity": 1}, "encoding": {"y": {"field": "ordered", "type": "quantitative", "title": "Mean Cumulative Infected", "scale": {"domain": [-1057, 23077], "nice": false, "zero": false}}, "color": {"datum": "Ordered split", "type": "nominal", "title": null}}}
]
},
{
"width": 610, "height": 609.4,
"title": {"text": "3% infection chance", "offset": 14.1},
"data": {"name": "p2"},
"encoding": {"x": {"field": "day", "type": "quantitative", "title": "Day", "scale": {"domain": [-4.95, 125.95], "nice": false, "zero": false},
  "axis": {"values": [0,12.5,25,37.5,50,62.5,75,87.5,100,112.5,125], "format": "d", "labelExpr": "datum.value % 25 === 0 ? datum.label : ''", "labelFontSize": 24, "labelPadding": 5.5, "titleFontSize": 29, "titlePadding": 8.4, "labelFlush": false, "labelOverlap": false, "tickOpacity": {"condition": {"test": "datum.value % 25 !== 0", "value": 0}, "value": 1}, "gridWidth": {"condition": {"test": "datum.value % 25 === 0", "value": 2.2}, "value": 1.1}}}},
"layer": [
{"mark": {"type": "errorbar", "thickness": 2}, "encoding": {"y": {"field": "shuffle", "type": "quantitative", "title": null, "scale": {"domain": [-1057, 23077], "nice": false, "zero": false},
  "axis": {"values": [0,2500,5000,7500,10000,12500,15000,17500,20000,22500], "labels": false, "ticks": false, "title": null, "gridWidth": {"condition": {"test": "datum.value % 5000 === 0", "value": 2.2}, "value": 1.1}}},
  "yError": {"field": "shuffleErr"}, "color": {"datum": "Shuffle Split", "type": "nominal", "title": null}}},
{"mark": {"type": "errorbar", "thickness": 2}, "encoding": {"y": {"field": "ordered", "type": "quantitative", "title": null, "scale": {"domain": [-1057, 23077], "nice": false, "zero": false}}, "yError": {"field": "orderedErr"}, "color": {"datum": "Ordered split", "type": "nominal", "title": null}}},
{"mark": {"type": "line", "strokeWidth": 2.5}, "encoding": {"y": {"field": "shuffle", "type": "quantitative", "title": null, "scale": {"domain": [-1057, 23077], "nice": false, "zero": false}}, "color": {"datum": "Shuffle Split", "type": "nominal", "title": null}}},
{"mark": {"type": "circle", "size": 90, "opacity": 1}, "encoding": {"y": {"field": "shuffle", "type": "quantitative", "title": null, "scale": {"domain": [-1057, 23077], "nice": false, "zero": false}}, "color": {"datum": "Shuffle Split", "type": "nominal", "title": null}}},
{"mark": {"type": "line", "strokeWidth": 2.5}, "encoding": {"y": {"field": "ordered", "type": "quantitative", "title": null, "scale": {"domain": [-1057, 23077], "nice": false, "zero": false}}, "color": {"datum": "Ordered split", "type": "nominal", "title": null}}},
{"mark": {"type": "circle", "size": 90, "opacity": 1}, "encoding": {"y": {"field": "ordered", "type": "quantitative", "title": null, "scale": {"domain": [-1057, 23077], "nice": false, "zero": false}}, "color": {"datum": "Ordered split", "type": "nominal", "title": null}}}
]
},
{
"width": 593, "height": 609.4,
"title": {"text": "5% infection chance", "offset": 14.1, "dx": 8},
"data": {"name": "p3"},
"encoding": {"x": {"field": "day", "type": "quantitative", "title": "Day", "scale": {"domain": [-4.95, 122.3], "nice": false, "zero": false},
  "axis": {"values": [0,12.5,25,37.5,50,62.5,75,87.5,100,112.5], "format": "d", "labelExpr": "datum.value % 25 === 0 ? datum.label : ''", "labelFontSize": 24, "labelPadding": 5.5, "titleFontSize": 29, "titlePadding": 8.4, "titleX": 305, "labelFlush": false, "labelOverlap": false, "tickOpacity": {"condition": {"test": "datum.value % 25 !== 0", "value": 0}, "value": 1}, "gridWidth": {"condition": {"test": "datum.value % 25 === 0", "value": 2.2}, "value": 1.1}}}},
"layer": [
{"mark": {"type": "errorbar", "thickness": 2}, "encoding": {"y": {"field": "shuffle", "type": "quantitative", "title": null, "scale": {"domain": [-1057, 23077], "nice": false, "zero": false},
  "axis": {"values": [0,2500,5000,7500,10000,12500,15000,17500,20000,22500], "labels": false, "ticks": false, "title": null, "gridWidth": {"condition": {"test": "datum.value % 5000 === 0", "value": 2.2}, "value": 1.1}}},
  "yError": {"field": "shuffleErr"}, "color": {"datum": "Shuffle Split", "type": "nominal", "title": null}}},
{"mark": {"type": "errorbar", "thickness": 2}, "encoding": {"y": {"field": "ordered", "type": "quantitative", "title": null, "scale": {"domain": [-1057, 23077], "nice": false, "zero": false}}, "yError": {"field": "orderedErr"}, "color": {"datum": "Ordered split", "type": "nominal", "title": null}}},
{"mark": {"type": "line", "strokeWidth": 2.5}, "encoding": {"y": {"field": "shuffle", "type": "quantitative", "title": null, "scale": {"domain": [-1057, 23077], "nice": false, "zero": false}}, "color": {"datum": "Shuffle Split", "type": "nominal", "title": null}}},
{"mark": {"type": "circle", "size": 90, "opacity": 1}, "encoding": {"y": {"field": "shuffle", "type": "quantitative", "title": null, "scale": {"domain": [-1057, 23077], "nice": false, "zero": false}}, "color": {"datum": "Shuffle Split", "type": "nominal", "title": null}}},
{"mark": {"type": "line", "strokeWidth": 2.5}, "encoding": {"y": {"field": "ordered", "type": "quantitative", "title": null, "scale": {"domain": [-1057, 23077], "nice": false, "zero": false}}, "color": {"datum": "Ordered split", "type": "nominal", "title": null}}},
{"mark": {"type": "circle", "size": 90, "opacity": 1}, "encoding": {"y": {"field": "ordered", "type": "quantitative", "title": null, "scale": {"domain": [-1057, 23077], "nice": false, "zero": false}}, "color": {"datum": "Ordered split", "type": "nominal", "title": null}}}
]
}
]
}
